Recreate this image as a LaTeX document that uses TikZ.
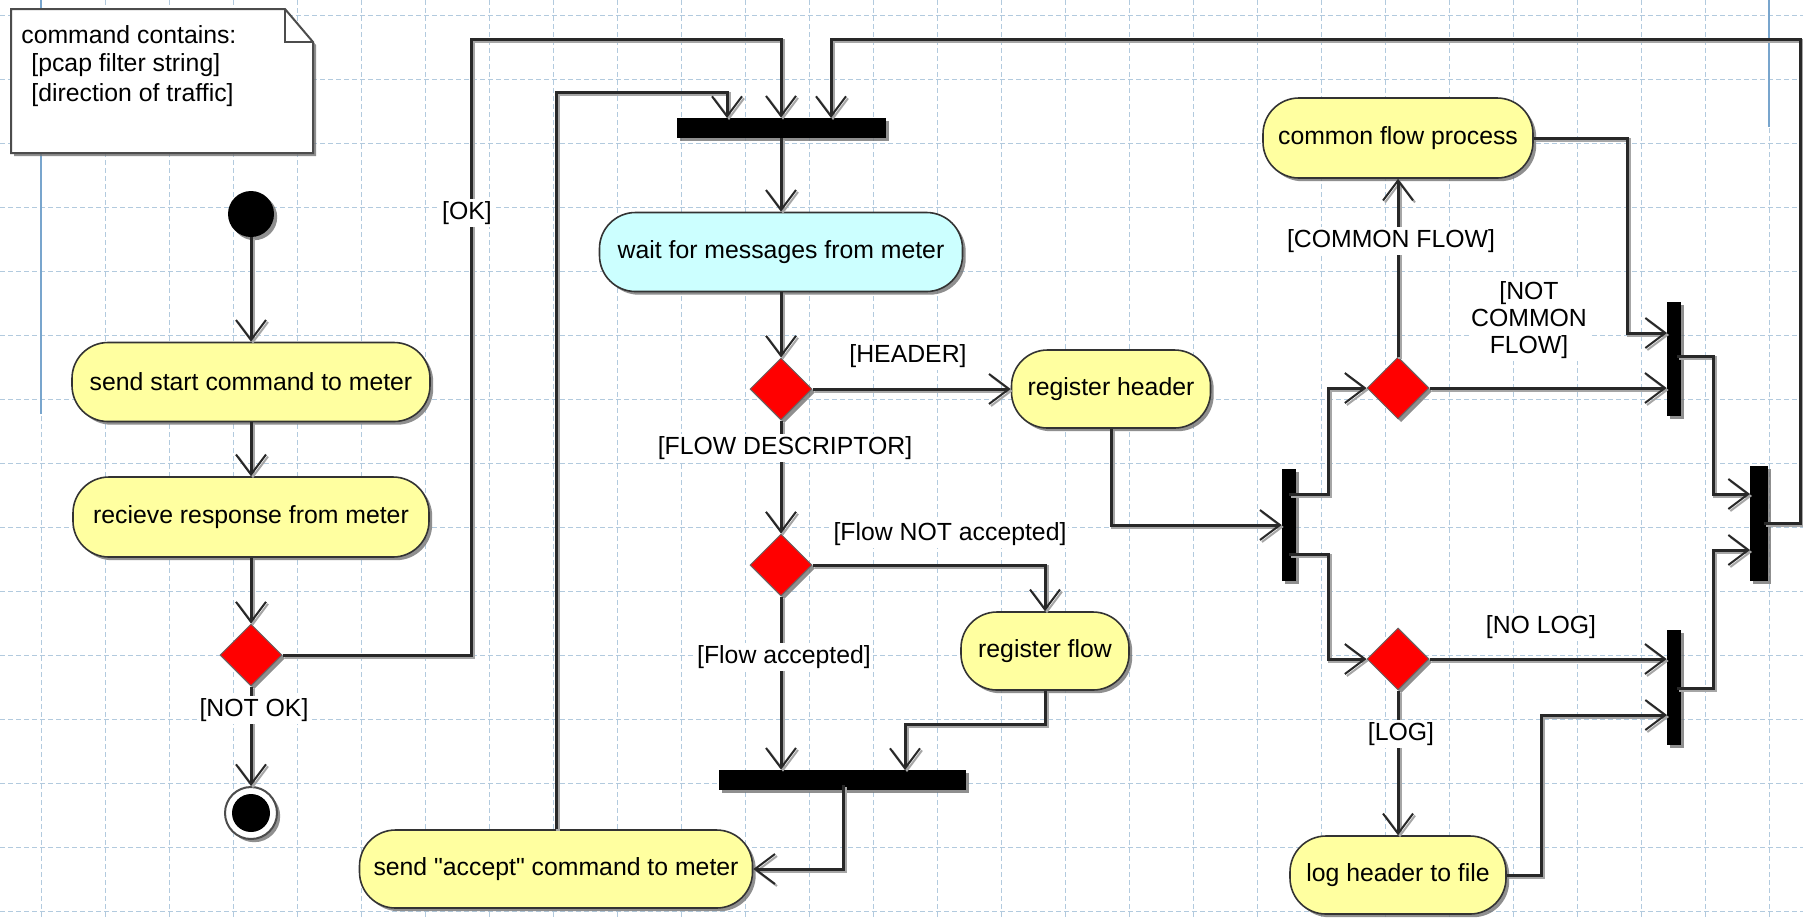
\documentclass[tikz,border=0pt]{standalone}
\usepackage{fontspec}
\setmainfont{Liberation Sans}
\usetikzlibrary{arrows.meta,shapes.geometric,shadows,calc}

\definecolor{gridblue}{RGB}{178,202,222}
\definecolor{marginblue}{RGB}{120,165,205}
\definecolor{actfill}{RGB}{255,255,160}
\definecolor{waitfill}{RGB}{204,255,255}
\definecolor{wire}{RGB}{40,40,40}

\tikzset{
  shade3/.style={drop shadow={shadow xshift=1.6pt,shadow yshift=-1.6pt,fill=black!55,opacity=0.8}},
  txt/.style={font=\fontsize{12.4}{14}\selectfont},
  action/.style={rectangle, rounded corners=18pt, draw=black!80, line width=0.8pt,
    fill=actfill, shade3, txt, text=black, inner sep=0pt},
  waitbox/.style={action, fill=waitfill},
  choice/.style={diamond, aspect=1, draw=black!60, line width=0.5pt, fill=red,
    minimum width=31pt, minimum height=31pt, inner sep=0pt, shade3},
  syncbar/.style={rectangle, fill=black, draw=none, inner sep=0pt, shade3},
  guard/.style={txt, text=black, inner sep=1pt, fill=white, align=center},
  flow/.style={draw=wire, line width=1.5pt,
    preaction={draw=black!35, line width=1.6pt, transform canvas={xshift=1pt,yshift=-1pt}},
    -{Straight Barb[length=10pt,width=15pt,line width=1pt]}},
  gridline/.style={draw=gridblue, line width=0.5pt, dash pattern=on 2.5pt off 1.5pt},
}

\begin{document}
\begin{tikzpicture}[x=0.5pt,y=-0.5pt]
  \useasboundingbox (0,0) rectangle (1803,918);
  \fill[white] (0,0) rectangle (1803,918);

  % background grid and margin guides
  \foreach \gx in {41,105,...,1800} \draw[gridline] (\gx,0) -- (\gx,918);
  \foreach \gy in {15,79,...,918} \draw[gridline] (0,\gy) -- (1803,\gy);
  \draw[marginblue, line width=0.8pt] (41,0) -- (41,414);
  \draw[marginblue, line width=0.8pt] (1769,0) -- (1769,127);

  % note
  \draw[fill=white, draw=black!70, line width=1pt, shade3]
    (11,9) -- (285,9) -- (313,42) -- (313,153) -- (11,153) -- cycle;
  \draw[black!70, line width=1pt] (285,9) -- (285,42) -- (313,42);
  \node[txt, anchor=west, inner sep=0pt] (noteA) at (21,35) {command contains:};
  \node[txt, anchor=west, inner sep=0pt] (noteB) at (31,65) {[pcap filter string]};
  \node[txt, anchor=west, inner sep=0pt] (noteC) at (31,95) {[direction of traffic]};

  % left column
  \node[circle, fill=black, minimum size=23pt, inner sep=0pt, shade3] (start) at (251,214) {};
  \node[action, minimum width=179pt, minimum height=39.5pt] (sendstart) at (251,382) {send start command to meter};
  \node[action, minimum width=178pt, minimum height=40pt] (recv) at (251,517) {recieve response from meter};
  \node[choice] (d1) at (251,655) {};
  \node[circle, draw=black!70, line width=1pt, fill=white, minimum size=26pt, inner sep=0pt, shade3] (final) at (251,813) {};
  \node[circle, fill=black, minimum size=19pt, inner sep=0pt] (finaldot) at (final) {};

  % middle column
  \node[syncbar, minimum width=104.5pt, minimum height=10pt] (topbar) at (781,128) {};
  \node[waitbox, minimum width=181.5pt, minimum height=39.5pt] (wait) at (781,252) {wait for messages from meter};
  \node[choice] (d2) at (781,389) {};
  \node[action, minimum width=99.5pt, minimum height=39pt] (reghead) at (1111,389) {register header};
  \node[choice] (d3) at (781,565) {};
  \node[action, minimum width=84pt, minimum height=39pt] (regflow) at (1045,651) {register flow};
  \node[syncbar, minimum width=123.5pt, minimum height=10pt] (botbar) at (842,780) {};
  \node[action, minimum width=196.5pt, minimum height=39pt] (sendaccept) at (556,869) {send \textquotedbl accept\textquotedbl\ command to meter};

  % right part
  \node[syncbar, minimum width=7pt, minimum height=56pt] (forkbar) at (1289,525) {};
  \node[choice] (d4) at (1398,388) {};
  \node[choice] (d5) at (1398,659) {};
  \node[action, minimum width=135pt, minimum height=40pt] (common) at (1398,138) {common flow process};
  \node[action, minimum width=108pt, minimum height=39pt] (logfile) at (1398,875) {log header to file};
  \node[syncbar, minimum width=7pt, minimum height=57pt] (join1) at (1674,359) {};
  \node[syncbar, minimum width=7pt, minimum height=57.5pt] (join2) at (1674,687) {};
  \node[syncbar, minimum width=9pt, minimum height=57.5pt] (endbar) at (1759,523) {};

  % bar ports
  \coordinate (inA) at (727,118);
  \coordinate (inB) at (831,118);
  \coordinate (outD) at (843,785);
  \coordinate (fkA) at (1289,494);
  \coordinate (fkB) at (1289,554);
  \coordinate (j1a) at (1667,333);
  \coordinate (j1o) at (1677,356);
  \coordinate (j2b) at (1667,715);
  \coordinate (j2o) at (1677,688);
  \coordinate (fA) at (1750,494);
  \coordinate (fB) at (1750,550);
  \coordinate (fo) at (1764,523);

  % connectors
  \draw[flow] (start) -- (sendstart);
  \draw[flow] (sendstart) -- (recv);
  \draw[flow] (recv) -- (d1);
  \draw[flow] (d1) -- (final);
  \draw[flow] (d1.east) -| (471,39) -| (topbar.north);
  \draw[flow] (sendaccept.north) |- (727,92) -- (inA);
  \draw[flow] (fo) -| (1800,39) -| (inB);
  \draw[flow] (topbar) -- (wait);
  \draw[flow] (wait) -- (d2);
  \draw[flow] (d2) -- (reghead);
  \draw[flow] (d2) -- (d3);
  \draw[flow] (d3.east) -| (regflow.north);
  \draw[flow] (d3) -- (d3 |- botbar.north);
  \draw[flow] (regflow.south) -- ++(0,34) -| (905,770);
  \draw[flow] (outD) |- (sendaccept.east);
  \draw[flow] (reghead.south) |- (forkbar.west);
  \draw[flow] (fkA) -- (1328,494) |- (d4.west);
  \draw[flow] (fkB) -- (1328,554) |- (d5.west);
  \draw[flow] (d4) -- (common);
  \draw[flow] (d4) -- (d4 -| join1.west);
  \draw[flow] (common.east) -| (1627,333) -- (j1a);
  \draw[flow] (j1o) -| (1713,494) -- (fA);
  \draw[flow] (d5) -- (d5 -| join2.west);
  \draw[flow] (d5) -- (logfile);
  \draw[flow] (logfile.east) -| (1541,715) -- (j2b);
  \draw[flow] (j2o) -| (1713,550) -- (fB);

  % guard labels
  \node[guard] (gOK) at (467,213) {[OK]};
  \node[guard] (gNOK) at (254,710) {[NOT OK]};
  \node[guard] (gHEAD) at (908,356) {[HEADER]};
  \node[guard] (gFD) at (785,448) {[FLOW DESCRIPTOR]};
  \node[guard] (gFNA) at (950,534) {[Flow NOT accepted]};
  \node[guard] (gFA) at (784,657) {[Flow accepted]};
  \node[guard] (gCF) at (1391,241) {[COMMON FLOW]};
  \node[guard, font=\fontsize{12.4}{13.5}\selectfont] (gNCF) at (1529,320) {[NOT\\COMMON\\FLOW]};
  \node[guard] (gNL) at (1541,627) {[NO LOG]};
  \node[guard] (gL) at (1401,734) {[LOG]};
\end{tikzpicture}
\end{document}
